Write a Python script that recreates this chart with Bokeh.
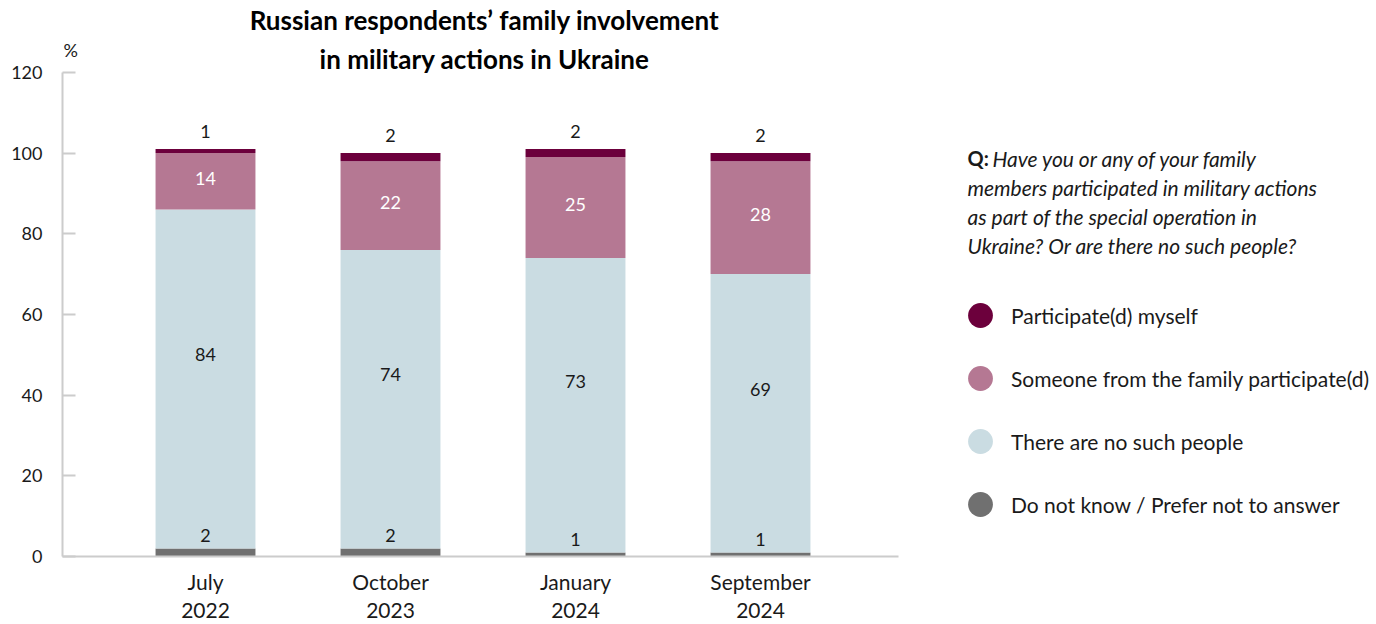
from bokeh.plotting import figure
from bokeh.models import ColumnDataSource, Range1d, FixedTicker, Label, Legend, LegendItem
from bokeh.embed import file_html
from bokeh.resources import INLINE
from bokeh.core.properties import value

# ---- data ----
periods = ["July\n2022", "October\n2023", "January\n2024", "September\n2024"]
dont_know = [2, 2, 1, 1]
no_people = [84, 74, 73, 69]
family = [14, 22, 25, 28]
myself = [1, 2, 2, 2]
y_ticks = [0, 20, 40, 60, 80, 100, 120]
series_names = ["Participate(d) myself", "Someone from the family participate(d)",
                "There are no such people", "Do not know / Prefer not to answer"]
title_lines = ["Russian respondents\u2019 family involvement", "in military actions in Ukraine"]
question_lines = ["Have you or any of your family", "members participated in military actions",
                  "as part of the special operation in", "Ukraine? Or are there no such people?"]

FONT = "Lato"
C_ME, C_FAM, C_NONE, C_DK = "#6c003c", "#b57893", "#cadce2", "#707070"
TXT = "#1a1a1a"

W, H = 1376, 624
FL, FB = 62, 557            # frame left edge / x-axis position (canvas px)
AXIS_TOP_PX = 72            # pixel of the 120 tick
AXIS_RIGHT_PX = 898         # end of x-axis line
PX_PER_X = 185.0            # px between category centres
FIRST_X_PX = 205.0          # px of first category centre
PX_PER_Y = (FB - AXIS_TOP_PX) / 120.0

X0 = -(FIRST_X_PX - FL) / PX_PER_X
X1 = X0 + (W - FL) / PX_PER_X
XB = X0 + (AXIS_RIGHT_PX - FL) / PX_PER_X
Y0 = 0
Y1 = FB / PX_PER_Y


def dx(px):
    return X0 + (px - FL) / PX_PER_X


def dy(py):
    return (FB - py) / PX_PER_Y


xs = list(range(len(periods)))
src = ColumnDataSource(dict(x=xs, dk=dont_know, none=no_people, fam=family, me=myself))

p = figure(width=W, height=H, output_backend="svg", toolbar_location=None,
           x_range=Range1d(X0, X1), y_range=Range1d(Y0, Y1),
           min_border_left=FL, min_border_right=0,
           min_border_top=0, min_border_bottom=H - FB)
p.outline_line_color = None
p.xgrid.grid_line_color = None
p.ygrid.grid_line_color = None
p.background_fill_color = "white"
p.border_fill_color = "white"

p.vbar_stack(["dk", "none", "fam", "me"], x="x", width=0.54, source=src,
             fill_color=[C_DK, C_NONE, C_FAM, C_ME], line_color=None)

# axes
yax = p.yaxis[0]
yax.bounds = (0, 120)
yax.ticker = FixedTicker(ticks=y_ticks)
yax.axis_line_color = "#cccccc"
yax.axis_line_width = 2
yax.major_tick_in = 13
yax.major_tick_out = 0
yax.major_tick_line_color = "#cccccc"
yax.major_tick_line_width = 2
yax.minor_tick_line_color = None
yax.major_label_standoff = 20
yax.major_label_text_font = FONT
yax.major_label_text_font_size = "18px"
yax.major_label_text_color = TXT

xax = p.xaxis[0]
xax.bounds = (X0, XB)
xax.ticker = FixedTicker(ticks=xs)
xax.major_label_overrides = {i: periods[i] for i in xs}
xax.axis_line_color = "#cccccc"
xax.axis_line_width = 2
xax.major_tick_line_color = None
xax.minor_tick_line_color = None
xax.major_tick_out = 0
xax.major_tick_in = 0
xax.major_label_standoff = 12
xax.major_label_text_font = FONT
xax.major_label_text_font_size = "21px"
xax.major_label_text_color = TXT
xax.major_label_text_line_height = 1.12

# value labels
tops = [a + b + c + d for a, b, c, d in zip(dont_know, no_people, family, myself)]
none_mid = [a + b / 2 + 6 for a, b in zip(dont_know, no_people)]
fam_mid = [a + b + c / 2 for a, b, c in zip(dont_know, no_people, family)]
lab_common = dict(text_font=value(FONT), text_font_size="18px", text_align="center",
                  text_baseline="middle")
p.text(x=xs, y=tops, text=[str(v) for v in myself], y_offset=-18, text_color=TXT, **lab_common)
p.text(x=xs, y=dont_know, text=[str(v) for v in dont_know], y_offset=-13, text_color=TXT, **lab_common)
p.text(x=xs, y=none_mid, text=[str(v) for v in no_people], text_color=TXT, **lab_common)
p.text(x=xs, y=fam_mid, text=[str(v) for v in family], text_color="white", y_offset=-3, **lab_common)

# title
for i, t in enumerate(title_lines):
    p.add_layout(Label(x=dx(484), y=dy(20 + 39 * i), text=t, text_font=FONT,
                       text_font_size="26px", text_font_style="bold", text_color="black",
                       text_align="center", text_baseline="middle"))
# percent sign (just inside the frame)
p.add_layout(Label(x=dx(63), y=dy(50), text="%", text_font=FONT, text_font_size="18px",
                   text_color=TXT, text_align="left", text_baseline="middle"))

# question text
p.add_layout(Label(x=dx(967), y=dy(158), text="Q:", text_font=FONT, text_font_size="20px",
                   text_font_style="bold", text_color=TXT, text_align="left", text_baseline="middle"))
for i, t in enumerate(question_lines):
    p.add_layout(Label(x=dx(992 if i == 0 else 967), y=dy(158 + 29 * i), text=t, text_font=FONT,
                       text_font_size="21px", text_font_style="italic", text_color=TXT,
                       text_align="left", text_baseline="middle"))

# legend (circle markers; renderers carry one non-drawable point so the legend glyph is rendered)
items = []
for name, col in zip(series_names, [C_ME, C_FAM, C_NONE, C_DK]):
    r = p.scatter(x=[float("nan")], y=[float("nan")], marker="circle", size=25,
                  fill_color=col, line_color=None)
    items.append(LegendItem(label=name, renderers=[r], index=0))
leg = Legend(items=items, location=(949 - FL, FB - (285 + 4 * 62 + 3 * 1)),
             glyph_width=62, glyph_height=62, spacing=1, padding=0, margin=0,
             label_standoff=-8, label_text_font=FONT, label_text_font_size="21px",
             label_text_color=TXT, border_line_color=None, background_fill_alpha=0)
p.add_layout(leg, "center")

open("out.html", "w").write(file_html(p, INLINE))
